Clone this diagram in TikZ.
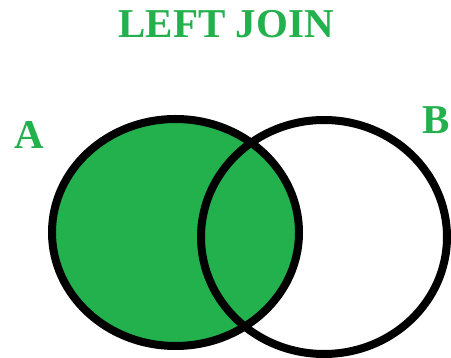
\documentclass[tikz,border=0pt]{standalone}
\usepackage{fontspec}
\setmainfont{Liberation Serif}
\definecolor{joingreen}{RGB}{34,177,76}
\begin{document}
\begin{tikzpicture}[x=1pt, y=-1pt,
    lbl/.style={text=joingreen, font=\bfseries\fontsize{41}{46}\selectfont, inner sep=0pt}]
    \useasboundingbox (0,0) rectangle (451,358);
    \clip (0,0) rectangle (451,358);

    \node[lbl] (title) at (226,24) {LEFT JOIN};
    \node[lbl] (labA) at (29,135) {A};
    \node[lbl] (labB) at (436,120) {B};

    \fill[joingreen] (175.5,232.5) ellipse (123.5 and 113.5);
    \draw[line width=8pt] (175.5,232.5) ellipse (123.5 and 113.5);
    \draw[line width=8pt] (324,237) ellipse (123 and 117);
\end{tikzpicture}
\end{document}
